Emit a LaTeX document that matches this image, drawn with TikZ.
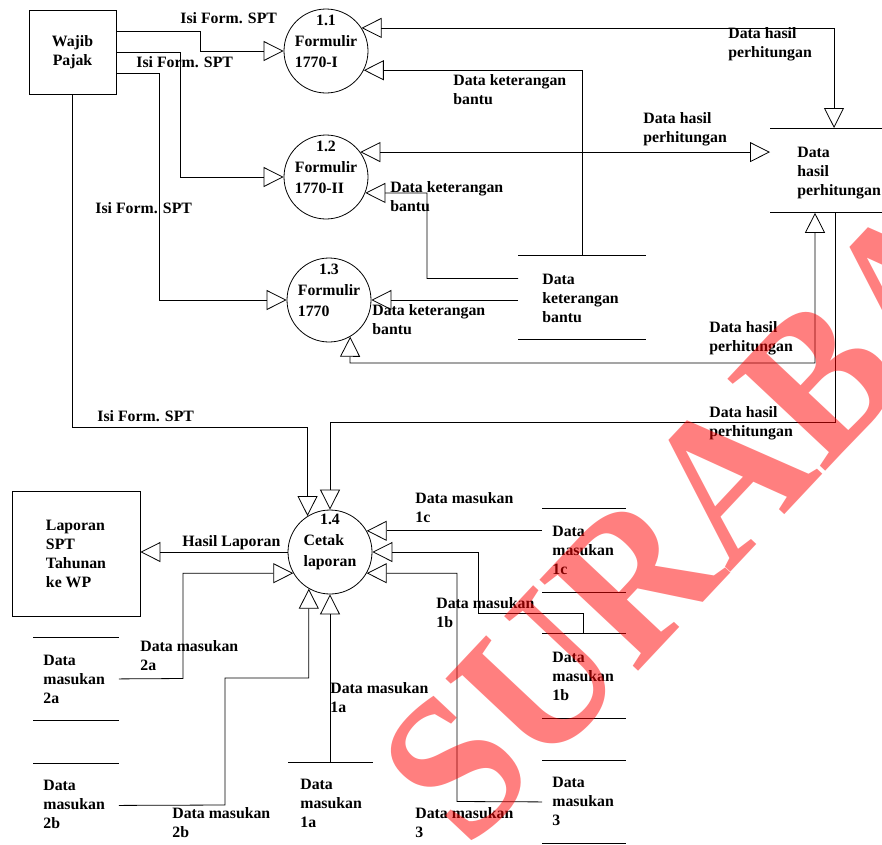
\documentclass[tikz,border=0pt]{standalone}
\usepackage{fontspec}
\setmainfont{Liberation Serif}
\usetikzlibrary{arrows.meta}
\begin{document}
\begin{tikzpicture}[x=1pt,y=-1pt,line width=0.8pt,
  every node/.style={font=\fontsize{15.8}{19}\selectfont\bfseries, inner sep=0pt},
  >={Triangle[open,length=20pt,width=20pt]},
  ent/.style={draw, rectangle},
  proc/.style={draw, circle, minimum size=84pt},
  ptext/.style={align=center, font=\fontsize{15.8}{21}\selectfont\bfseries},
  lbl/.style={anchor=north west, align=left},
  store/.style={rectangle, anchor=north west, minimum height=84pt,
    append after command={(\tikzlastnode.north west) edge (\tikzlastnode.north east)
      (\tikzlastnode.south west) edge (\tikzlastnode.south east)}},
  wmark/.style={rotate=46.8, xscale=0.93, anchor=base west, font=\fontsize{205}{205}\selectfont\bfseries,
    text=red, text opacity=0.5}
]
\clip (0,0) rectangle (882,844);
% entities
\node[ent, minimum width=87pt, minimum height=84pt, align=center] (wp) at (72.5,52) {Wajib\\Pajak};
\node[ent, minimum width=128pt, minimum height=125pt, align=left] (lap) at (76,553.5) {Laporan\\SPT\\Tahunan\\ke WP};
% processes
\node[proc] (p11) at (326,51) {};
\node[proc] (p12) at (326,177) {};
\node[proc] (p13) at (329,300) {};
\node[proc] (p14) at (330,552) {};
\node[ptext] (p11t) at ([yshift=10pt]p11.center) {1.1\\Formulir\\\rlap{1770-I}\phantom{Formulir}};
\node[ptext] (p12t) at ([yshift=10pt]p12.center) {1.2\\Formulir\\\rlap{1770-II}\phantom{Formulir}};
\node[ptext] (p13t) at ([yshift=10pt]p13.center) {1.3\\Formulir\\\rlap{1770}\phantom{Formulir}};
\node[ptext] (p14t) at ([yshift=10pt]p14.center) {1.4\\\rlap{Cetak}\phantom{laporan}\\laporan};
% stores
\node[store, minimum width=112pt] (dhp) at (770,128) {};
\node[store, minimum width=127pt] (dkb) at (518,255) {};
\node[store, minimum width=83pt] (m1c) at (542,508) {};
\node[store, minimum width=83pt, minimum height=85pt] (m1b) at (542,633) {};
\node[store, minimum width=83pt, minimum height=83pt] (m3) at (542,760) {};
\node[store, minimum width=85pt, minimum height=83pt] (m2a) at (33,637) {};
\node[store, minimum width=85pt] (m2b) at (33,763) {};
\node[store, minimum width=84pt] (m1a) at (288,762) {};
\node[lbl] (dhpt) at (797,147) {Data\\hasil\\perhitungan};
\node[lbl] (dkbt) at (542,274) {Data\\keterangan\\bantu};
\node[lbl] (m1ct) at (552,526) {Data\\masukan\\1c};
\node[lbl] (m1bt) at (552,652) {Data\\masukan\\1b};
\node[lbl] (m3t) at (552,777) {Data\\masukan\\3};
\node[lbl] (m2at) at (43,655) {Data\\masukan\\2a};
\node[lbl] (m2bt) at (43,780) {Data\\masukan\\2b};
\node[lbl] (m1at) at (300,779) {Data\\masukan\\1a};
% connectors
\draw[->] ([yshift=21pt]wp.east) -- (200,31) -- (200,51) -- (p11);
\draw[->] (wp.east) -- (180,52) -- (180,177) -- (p12);
\draw[->] ([yshift=-21pt]wp.east) -- (159,73) -- (159,300) -- (p13);
\draw[->] (wp.south) -- (72.5,427) -| (p14.122);
\draw[<->] (p11.33) -| ([xshift=64pt]dhp.north west);
\draw[->] ([xshift=64pt]dkb.north west) |- (p11.-27);
\draw[<->] (p12.36) -- (dhp.west |- p12.36);
\draw[->] ([yshift=19pt]dkb.west) -| (427,193) -- (p12.-22);
\draw[->] (dkb.west |- p13) -- (p13);
\draw[<->] (p13.-60) -- (350,363) -| ([xshift=45pt]dhp.south west);
\draw[->] ([xshift=65pt]dhp.south west) -- (835,422) -| (p14.north);
\draw[->] (p14.west) -- (p14.west -| lap.east);
\draw[->] (m2a.east) -- (183,678.5) |- (p14.210);
\draw[->] (m2b.east) -- (225,805) -- (225,678) -| (p14.240);
\draw[->] (p14.south |- m1a.north) -- (p14.south);
\draw[->] (m3.west) -- (457,801.5) |- (p14.-30);
\draw[->] ([xshift=41pt]m1b.north west) |- (478,613) |- (p14.east);
\draw[->] (m1c.west |- p14.30) -- (p14.30);
% labels
\node[lbl] (l1) at (180,12) {Isi Form. SPT};
\node[lbl] (l2) at (136,56) {Isi Form. SPT};
\node[lbl] (l3) at (95,202) {Isi Form. SPT};
\node[lbl] (l4) at (97,410) {Isi Form. SPT};
\node[lbl] (l5) at (728,27) {Data hasil\\perhitungan};
\node[lbl] (l6) at (453,74) {Data keterangan\\bantu};
\node[lbl] (l7) at (643,112) {Data hasil\\perhitungan};
\node[lbl] (l8) at (390,181) {Data keterangan\\bantu};
\node[lbl] (l9) at (372,304) {Data keterangan\\bantu};
\node[lbl] (l10) at (709,321) {Data hasil\\perhitungan};
\node[lbl] (l11) at (709,406) {Data hasil\\perhitungan};
\node[lbl] (l12) at (182,535) {Hasil Laporan};
\node[lbl] (l13) at (415,492) {Data masukan\\1c};
\node[lbl] (l14) at (436,597) {Data masukan\\1b};
\node[lbl] (l15) at (140,640) {Data masukan\\2a};
\node[lbl] (l16) at (330,682) {Data masukan\\1a};
\node[lbl] (l17) at (172,807) {Data masukan\\2b};
\node[lbl] (l18) at (415,807) {Data masukan\\3};
% watermark
\node[wmark] (wm) at (468,852) {SURABAYA};
\end{tikzpicture}
\end{document}
